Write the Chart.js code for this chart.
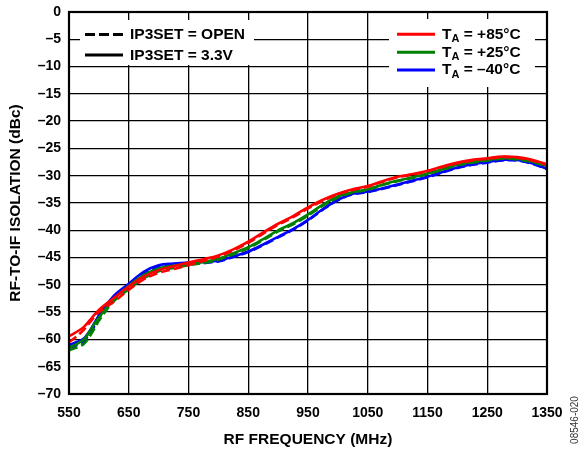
<!DOCTYPE html>
<html>
<head>
<meta charset="utf-8">
<title>RF-to-IF Isolation vs RF Frequency</title>
<script src="https://cdn.jsdelivr.net/npm/chart.js@4.4.1/dist/chart.umd.min.js"></script>
<style>
    html, body { margin: 0; padding: 0; background: #fff; }
    #wrap { width: 582px; height: 450px; }
</style>
</head>
<body>
<div id="wrap"><canvas id="isoChart" width="582" height="450"></canvas></div>
<script>
// RF frequency, MHz
const freqMHz = [550, 560, 575, 590, 600, 625, 650, 675, 700, 725, 750, 775, 800, 825, 850, 875, 900,
    925, 950, 975, 1000, 1025, 1050, 1075, 1100, 1125, 1150, 1175, 1200, 1225, 1250, 1275, 1300, 1325, 1350];

// isolation in dBc, IP3SET = 3.3V (solid)
const iso33V_85 = [-59.4, -58.8, -57.7, -55.8, -54.6, -52.4, -50.3, -48.5, -47.3, -46.6, -45.9, -45.3, -44.6, -43.5, -42.1, -40.4, -38.8,
    -37.4, -35.8, -34.4, -33.3, -32.5, -31.9, -31.0, -30.2, -29.7, -29.1, -28.3, -27.6, -27.1, -26.8, -26.5, -26.6, -27.1, -27.9];
const iso33V_25 = [-61.5, -61.0, -60.0, -57.6, -56.0, -52.6, -50.2, -48.2, -47.0, -46.5, -46.1, -45.8, -45.2, -44.2, -43.1, -41.6, -40.0,
    -38.7, -37.1, -35.3, -33.8, -33.0, -32.5, -31.6, -30.9, -30.3, -29.6, -28.8, -28.0, -27.5, -27.1, -26.8, -26.9, -27.4, -28.2];
const iso33V_m40 = [-61.0, -60.6, -59.8, -57.5, -55.6, -52.0, -49.8, -47.6, -46.4, -46.1, -45.9, -45.8, -45.6, -44.8, -43.9, -42.6, -41.2,
    -39.8, -38.1, -36.1, -34.4, -33.3, -32.9, -32.3, -31.6, -30.9, -30.2, -29.3, -28.5, -27.9, -27.5, -27.1, -27.1, -27.7, -28.7];

// isolation in dBc, IP3SET = OPEN (dashed)
const isoOpen_85 = [-60.5, -59.7, -58.2, -56.2, -55.0, -53.1, -50.9, -49.0, -47.8, -47.1, -46.4, -45.6, -44.8, -43.7, -42.3, -40.6, -39.0,
    -37.6, -36.0, -34.6, -33.4, -32.6, -32.0, -31.1, -30.3, -29.8, -29.2, -28.4, -27.7, -27.2, -26.9, -26.6, -26.7, -27.2, -28.0];
const isoOpen_25 = [-62.0, -61.6, -60.8, -58.5, -56.6, -53.0, -50.8, -48.8, -47.5, -46.9, -46.4, -46.0, -45.4, -44.4, -43.3, -41.8, -40.2,
    -38.9, -37.3, -35.5, -34.0, -33.1, -32.6, -31.7, -31.0, -30.4, -29.7, -28.9, -28.1, -27.6, -27.2, -26.9, -27.0, -27.5, -28.3];
const isoOpen_m40 = [-61.6, -61.2, -60.3, -58.0, -56.1, -52.4, -50.2, -48.0, -46.8, -46.4, -46.1, -46.0, -45.7, -44.9, -44.0, -42.7, -41.3,
    -39.9, -38.2, -36.2, -34.5, -33.4, -33.0, -32.4, -31.7, -31.0, -30.3, -29.4, -28.6, -28.0, -27.6, -27.2, -27.2, -27.8, -28.8];

const modeLabels = ['IP3SET = OPEN', 'IP3SET = 3.3V'];
const tempLabels = ['+85°C', '+25°C', '–40°C'];
const tempColors = ['#ff0000', '#008000', '#0000ff'];

const FONT = "'Liberation Sans', Arial, Helvetica, sans-serif";

function toPoints(values) {
    return values.map((v, i) => ({ x: freqMHz[i], y: v }));
}

function makeSeries(label, values, color, dashed) {
    return {
        label: label,
        data: toPoints(values),
        borderColor: color,
        borderWidth: 2.6,
        borderDash: dashed ? [9, 4] : [],
        pointRadius: 0,
        tension: 0.35,
        fill: false
    };
}

// legends, frame and figure id drawn on top of the plot
const annotationsPlugin = {
    id: 'annotations',
    afterDraw(chart) {
        const ctx = chart.ctx;
        const area = chart.chartArea;
        ctx.save();

        // white legend boxes over the grid
        ctx.fillStyle = '#fff';
        ctx.fillRect(80, 20, 174, 45);
        ctx.fillRect(389, 19, 146, 68);

        // left legend: line style
        ctx.strokeStyle = '#000';
        ctx.lineWidth = 3;
        ctx.setLineDash([10, 4]);
        ctx.beginPath();
        ctx.moveTo(85, 34.5);
        ctx.lineTo(123, 34.5);
        ctx.stroke();
        ctx.setLineDash([]);
        ctx.beginPath();
        ctx.moveTo(85, 55);
        ctx.lineTo(123, 55);
        ctx.stroke();

        ctx.fillStyle = '#000';
        ctx.font = 'bold 15.5px ' + FONT;
        ctx.textBaseline = 'middle';
        ctx.textAlign = 'left';
        ctx.fillText(modeLabels[0], 130, 35);
        ctx.fillText(modeLabels[1], 130, 55.5);

        // right legend: temperature
        const rowY = [34.3, 52.3, 70];
        tempLabels.forEach((t, i) => {
            ctx.strokeStyle = tempColors[i];
            ctx.lineWidth = 3;
            ctx.beginPath();
            ctx.moveTo(397, rowY[i]);
            ctx.lineTo(435, rowY[i]);
            ctx.stroke();

            let x = 442;
            ctx.fillStyle = '#000';
            ctx.font = 'bold 15.5px ' + FONT;
            ctx.fillText('T', x, rowY[i]);
            x += ctx.measureText('T').width;
            ctx.font = 'bold 11px ' + FONT;
            ctx.fillText('A', x, rowY[i] + 5);
            x += ctx.measureText('A').width;
            ctx.font = 'bold 15.5px ' + FONT;
            ctx.fillText(' = ' + t, x, rowY[i]);
        });

        // heavy frame round the plot
        ctx.strokeStyle = '#000';
        ctx.lineWidth = 2.2;
        ctx.strokeRect(area.left, area.top, area.right - area.left, area.bottom - area.top);

        // figure number at the right edge
        ctx.translate(575, 420);
        ctx.rotate(-Math.PI / 2);
        ctx.fillStyle = '#333';
        ctx.font = '10px ' + FONT;
        ctx.textAlign = 'center';
        ctx.fillText('08546-020', 0, 0);

        ctx.restore();
    }
};

document.addEventListener('DOMContentLoaded', function () {
    const canvas = document.getElementById('isoChart');

    const datasets = [
        makeSeries(modeLabels[0] + ' ' + tempLabels[0], isoOpen_85, tempColors[0], true),
        makeSeries(modeLabels[1] + ' ' + tempLabels[0], iso33V_85, tempColors[0], false),
        makeSeries(modeLabels[0] + ' ' + tempLabels[1], isoOpen_25, tempColors[1], true),
        makeSeries(modeLabels[1] + ' ' + tempLabels[1], iso33V_25, tempColors[1], false),
        makeSeries(modeLabels[0] + ' ' + tempLabels[2], isoOpen_m40, tempColors[2], true),
        makeSeries(modeLabels[1] + ' ' + tempLabels[2], iso33V_m40, tempColors[2], false)
    ];

    new Chart(canvas, {
        type: 'line',
        data: { datasets: datasets },
        options: {
            responsive: false,
            animation: false,
            layout: { padding: { left: 0, right: 35, top: 12, bottom: 0 } },
            plugins: {
                legend: { display: false },
                tooltip: { enabled: false }
            },
            scales: {
                x: {
                    type: 'linear',
                    min: 550,
                    max: 1350,
                    afterFit: scale => { scale.height = 56; },
                    ticks: {
                        stepSize: 100,
                        padding: 11,
                        color: '#000',
                        font: { family: FONT, size: 14, weight: 'bold' },
                        callback: value => String(value)
                    },
                    grid: { color: '#000', lineWidth: 1.3, drawTicks: false },
                    border: { display: false },
                    title: {
                        display: true,
                        text: 'RF FREQUENCY (MHz)',
                        color: '#000',
                        font: { family: FONT, size: 15.5, weight: 'bold', lineHeight: 1 },
                        padding: { top: 0, bottom: 3 }
                    }
                },
                y: {
                    min: -70,
                    max: 0,
                    afterFit: scale => {
                        scale.width = 69;
                        // keep the plot top fixed by the layout padding only
                        scale.paddingTop = 0;
                        scale.paddingBottom = 0;
                    },
                    ticks: {
                        stepSize: 5,
                        padding: 8,
                        color: '#000',
                        font: { family: FONT, size: 14, weight: 'bold' },
                        callback: value => value < 0 ? '–' + Math.abs(value) : String(value)
                    },
                    grid: { color: '#000', lineWidth: 1.3, drawTicks: false },
                    border: { display: false },
                    title: {
                        display: true,
                        text: 'RF-TO-IF ISOLATION (dBc)',
                        color: '#000',
                        font: { family: FONT, size: 15.5, weight: 'bold', lineHeight: 1 },
                        padding: { top: 8, bottom: 0 }
                    }
                }
            }
        },
        plugins: [annotationsPlugin]
    });
});
</script>
</body>
</html>
